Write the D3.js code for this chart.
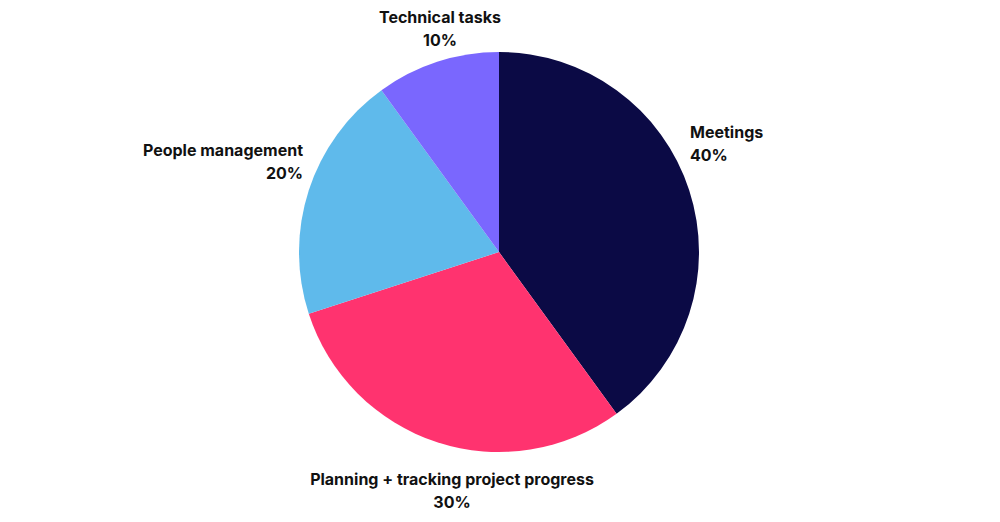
<!DOCTYPE html>
<html>
<head>
<meta charset="utf-8">
<script src="https://cdn.jsdelivr.net/npm/d3@7/dist/d3.min.js"></script>
<style>
  body { margin: 0; background: #fff; }
  text { font-family: Inter, "Noto Sans", sans-serif; font-weight: 700; font-size: 16px; fill: #111; }
</style>
</head>
<body>
<svg id="chart" width="1000" height="522"></svg>
<script>
// Share of time per activity
var categories = ["Meetings", "Planning + tracking project progress", "People management", "Technical tasks"];
var values = [40, 30, 20, 10];
var colors = ["#0b0a45", "#ff336f", "#5fbaeb", "#7a67fe"];

var width = 1000, height = 522;
var cx = 499, cy = 252, radius = 200;

var svg = d3.select("#chart");
var g = svg.append("g").attr("transform", "translate(" + cx + "," + cy + ")");

var pie = d3.pie().sort(null).value(function(d) { return d; });
var arc = d3.arc().innerRadius(0).outerRadius(radius);
var arcs = pie(values);

g.selectAll("path")
  .data(arcs)
  .enter().append("path")
  .attr("d", arc)
  .attr("fill", function(d, i) { return colors[i]; });

// label placement relative to pie centre (x, y of first line, anchor)
var labelPos = [
  [191, -114, "start"],
  [-47, 233, "middle"],
  [-196, -96, "end"],
  [-59, -229, "middle"]
];

var labels = svg.append("g").attr("transform", "translate(" + cx + "," + cy + ")");
arcs.forEach(function(d, i) {
  var p = labelPos[i];
  var t = labels.append("text")
    .attr("x", p[0]).attr("y", p[1])
    .attr("text-anchor", p[2]);
  t.append("tspan").attr("x", p[0]).text(categories[i]);
  t.append("tspan").attr("x", p[0]).attr("dy", 23).text(values[i] + "%");
});
</script>
</body>
</html>
